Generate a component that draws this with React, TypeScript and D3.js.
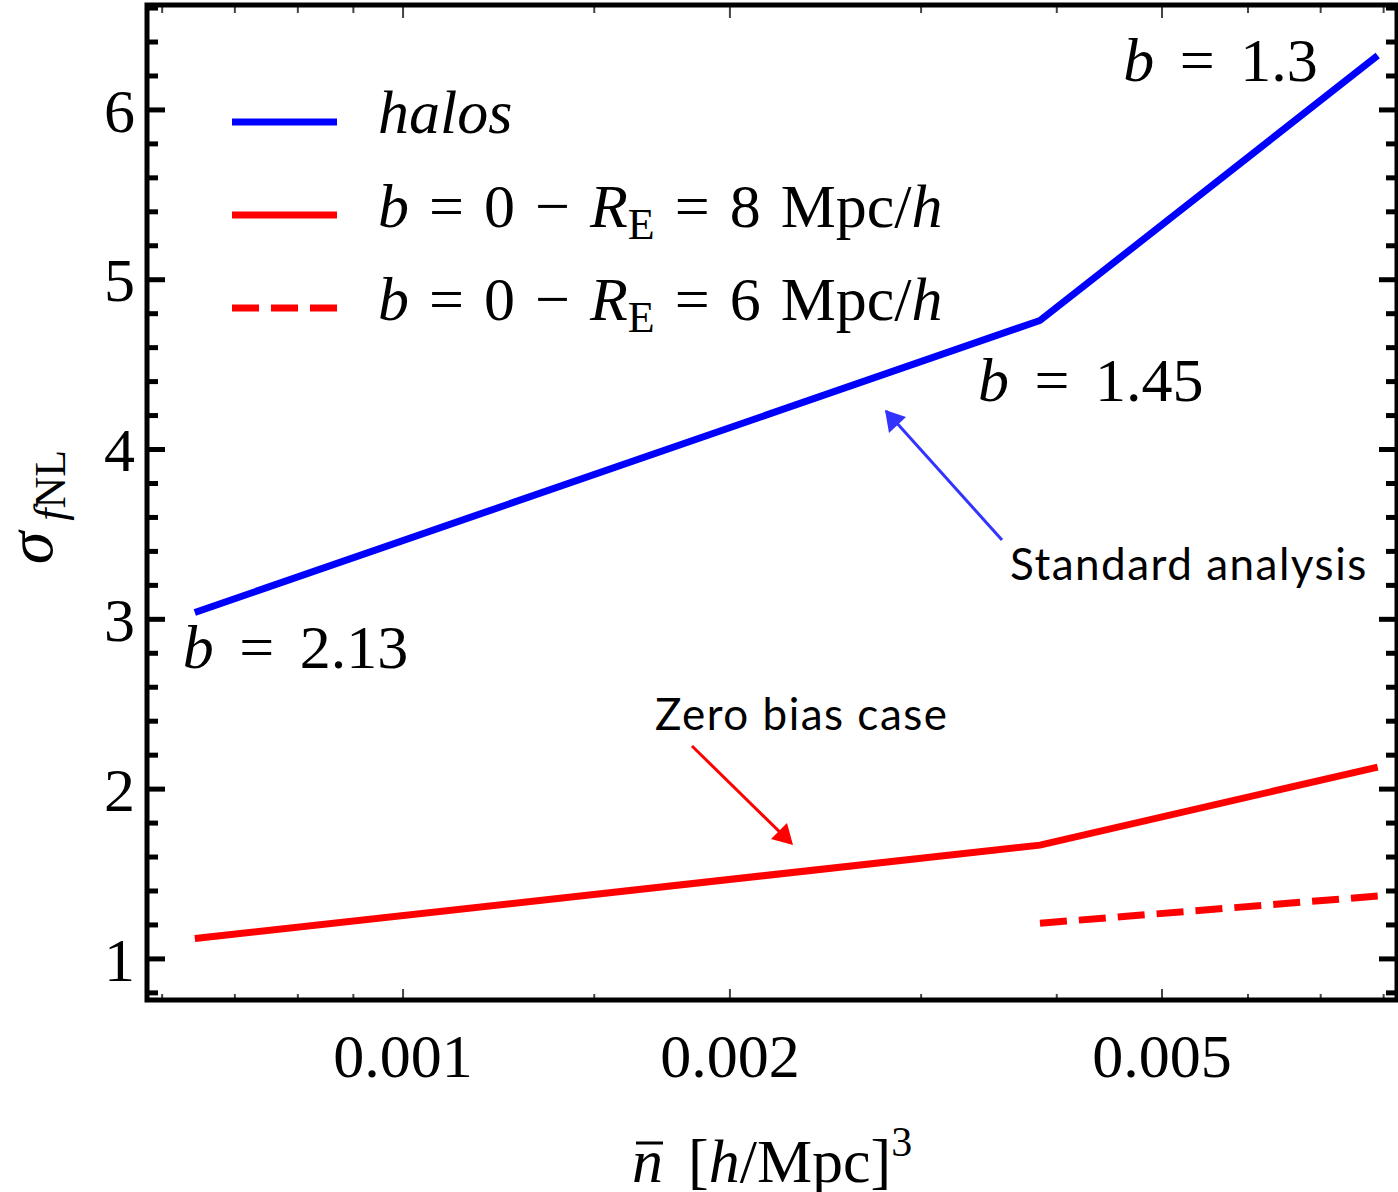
import React from 'react';
import * as d3 from 'd3';

// mean number density of tracers [h/Mpc]^3
const nbar = [0.000643, 0.00386, 0.0079];
const halos = [3.04, 4.76, 6.32];
const zeroBias8 = [1.12, 1.67, 2.13];
const nbarShort = [0.00386, 0.0079];
const zeroBias6 = [1.21, 1.37];
const biasLabels = ['b = 2.13', 'b = 1.45', 'b = 1.3'];

const xMajor = [0.001, 0.002, 0.005];
const xMinor = [0.0006, 0.0007, 0.0008, 0.0009, 0.0015, 0.003, 0.004, 0.006, 0.007, 0.008];
const yMajor = [1, 2, 3, 4, 5, 6];

const width = 1398;
const height = 1192;
const margin = { top: 5, right: 1, bottom: 192, left: 147 };

const serif = '"Liberation Serif", "DejaVu Serif", serif';
const sans = 'Lato, "Open Sans", sans-serif';

const BLUE = '#0000ff';
const RED = '#ff0000';

const App = () => {
  const x0 = margin.left;
  const x1 = width - margin.right;
  const y0 = margin.top;
  const y1 = height - margin.bottom;

  const x = d3.scaleLog().domain([0.000581, 0.00823]).range([x0, x1]);
  const y = d3.scaleLinear().domain([0.758, 6.618]).range([y1, y0]);

  const line = d3.line<[number, number]>()
    .x(d => x(d[0]))
    .y(d => y(d[1]));

  const halosPts = nbar.map((n, i) => [n, halos[i]] as [number, number]);
  const zb8Pts = nbar.map((n, i) => [n, zeroBias8[i]] as [number, number]);
  const zb6Pts = nbarShort.map((n, i) => [n, zeroBias6[i]] as [number, number]);

  const yMinor = d3.range(0.8, 6.61, 0.2).filter(v => Math.abs(v - Math.round(v)) > 0.01);

  // annotation anchors
  const p0 = [x(nbar[0]), y(halos[0])];
  const p1 = [x(nbar[1]), y(halos[1])];
  const p2 = [x(nbar[2]), y(halos[2])];

  const legend = [
    { y: 122, color: BLUE, dash: null },
    { y: 215, color: RED, dash: null },
    { y: 308, color: RED, dash: '27 12' },
  ];

  return (
    <svg width={width} height={height} style={{ position: 'absolute', left: 0, top: 0 }}>
      <rect x={0} y={0} width={width} height={height} fill="#fff" />

      {/* x ticks, bottom and top, pointing inward */}
      <g stroke="#444" strokeWidth={2}>
        {xMajor.map(v => (
          <g key={'xM' + v}>
            <line x1={x(v)} x2={x(v)} y1={y1} y2={y1 - 11} />
            <line x1={x(v)} x2={x(v)} y1={y0} y2={y0 + 13} />
          </g>
        ))}
        {xMinor.map(v => (
          <g key={'xm' + v}>
            <line x1={x(v)} x2={x(v)} y1={y1} y2={y1 - 6} />
            <line x1={x(v)} x2={x(v)} y1={y0} y2={y0 + 8} />
          </g>
        ))}
      </g>

      {/* y ticks, left and right */}
      <g stroke="#000" strokeWidth={5}>
        {yMajor.map(v => (
          <g key={'yM' + v}>
            <line x1={x0} x2={x0 + 18} y1={y(v)} y2={y(v)} />
            <line x1={x1} x2={x1 - 18} y1={y(v)} y2={y(v)} />
          </g>
        ))}
        {yMinor.map(v => (
          <g key={'ym' + v.toFixed(1)}>
            <line x1={x0} x2={x0 + 11} y1={y(v)} y2={y(v)} />
            <line x1={x1} x2={x1 - 11} y1={y(v)} y2={y(v)} />
          </g>
        ))}
      </g>

      <rect x={x0} y={y0} width={x1 - x0} height={y1 - y0} fill="none" stroke="#000" strokeWidth={5} />

      {/* tick labels */}
      <g fontFamily={serif} fontSize={62} fill="#000">
        {yMajor.map(v => (
          <text key={'yl' + v} x={x0 - 12} y={y(v)} dy="0.35em" textAnchor="end">{v}</text>
        ))}
        {xMajor.map(v => (
          <text key={'xl' + v} x={x(v)} y={y1 + 77} textAnchor="middle">{d3.format('.3f')(v)}</text>
        ))}
      </g>

      {/* axis titles */}
      <text transform={`translate(52,507) rotate(-90)`} fontFamily={serif} fontSize={66} textAnchor="middle">
        <tspan fontStyle="italic">σ</tspan>
        <tspan fontStyle="italic" fontSize={44} dy={13}> f</tspan>
        <tspan fontSize={44}>NL</tspan>
      </text>
      <g fontFamily={serif} fontSize={62} fill="#000">
        <text x={632} y={1182} fontStyle="italic">n</text>
        <line x1={636} x2={663} y1={1143} y2={1143} stroke="#000" strokeWidth={3} />
        <text x={688} y={1182}>
          <tspan>[</tspan>
          <tspan fontStyle="italic">h</tspan>
          <tspan>/Mpc]</tspan>
          <tspan fontSize={42} dy={-26}>3</tspan>
        </text>
      </g>

      {/* data */}
      <path d={line(halosPts) || ''} fill="none" stroke={BLUE} strokeWidth={7} />
      <path d={line(zb8Pts) || ''} fill="none" stroke={RED} strokeWidth={7} />
      <path d={line(zb6Pts) || ''} fill="none" stroke={RED} strokeWidth={7} strokeDasharray="27 12" />

      {/* bias labels */}
      <g fontFamily={serif} fontSize={62} fill="#000" wordSpacing={10}>
        <text x={p0[0] - 12} y={p0[1] + 55}><tspan fontStyle="italic">b</tspan>{biasLabels[0].slice(1)}</text>
        <text x={p1[0] - 62} y={p1[1] + 81}><tspan fontStyle="italic">b</tspan>{biasLabels[1].slice(1)}</text>
        <text x={p2[0] - 60} y={p2[1] + 25} textAnchor="end"><tspan fontStyle="italic">b</tspan>{biasLabels[2].slice(1)}</text>
      </g>

      {/* legend */}
      {legend.map((l, i) => (
        <line key={'lg' + i} x1={232} x2={337} y1={l.y} y2={l.y} stroke={l.color} strokeWidth={7}
          strokeDasharray={l.dash || undefined} />
      ))}
      <g fontFamily={serif} fontSize={62} fill="#000">
        <text x={378} y={133} fontStyle="italic">halos</text>
        {[{ y: 227, r: '8' }, { y: 320, r: '6' }].map(row => (
          <text key={'lt' + row.r} x={378} y={row.y} wordSpacing={4.5}>
            <tspan fontStyle="italic">b</tspan>
            <tspan>{' = 0 \u2212'}</tspan>
            <tspan fontStyle="italic">{' R'}</tspan>
            <tspan fontSize={44} dy={12}>E</tspan>
            <tspan dy={-12}>{` = ${row.r} Mpc/`}</tspan>
            <tspan fontStyle="italic">h</tspan>
          </text>
        ))}
      </g>

      {/* annotations */}
      <line x1={1002} y1={540} x2={886} y2={411} stroke="#3333ff" strokeWidth={3} />
      <path d="M885,410 L889,433 L906,417 z" fill="#3333ff" />
      <text x={1010} y={580} fontFamily={sans} fontSize={44} letterSpacing={1.5} fill="#000">Standard analysis</text>

      <line x1={692} y1={746} x2={791} y2={843} stroke={RED} strokeWidth={3} />
      <path d="M793,845 L771,839 L787,823 z" fill={RED} />
      <text x={655} y={730} fontFamily={sans} fontSize={44} letterSpacing={1.5} fill="#000">Zero bias case</text>
    </svg>
  );
};

export default App;
